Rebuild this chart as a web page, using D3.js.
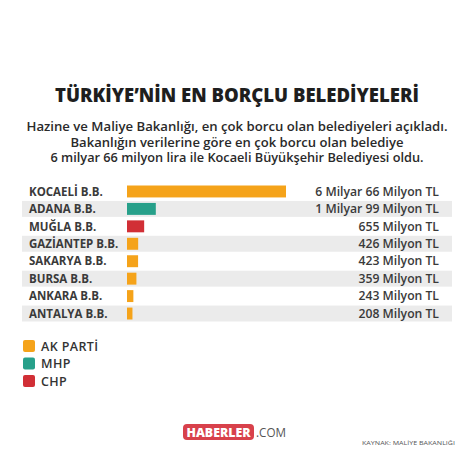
<!DOCTYPE html>
<html><head><meta charset="utf-8">
<script src="https://cdn.jsdelivr.net/npm/d3@7"></script>
<style>
html,body{margin:0;padding:0;background:#fff;}
svg{display:block;font-family:"Open Sans","Noto Sans",sans-serif;}
</style></head>
<body><svg id="c" width="474" height="474"></svg>
<script>
const categories = ["KOCAELİ B.B.","ADANA B.B.","MUĞLA B.B.","GAZİANTEP B.B.","SAKARYA B.B.","BURSA B.B.","ANKARA B.B.","ANTALYA B.B."];
const values = [6066, 1099, 655, 426, 423, 359, 243, 208];
const valueLabels = ["6 Milyar 66 Milyon TL","1 Milyar 99 Milyon TL","655 Milyon TL","426 Milyon TL","423 Milyon TL","359 Milyon TL","243 Milyon TL","208 Milyon TL"];
const parties = ["AK PARTİ","MHP","CHP","AK PARTİ","AK PARTİ","AK PARTİ","AK PARTİ","AK PARTİ"];
const legendItems = ["AK PARTİ","MHP","CHP"];
const partyColors = ["#f5a31a","#27a08a","#d12f36"];
const title = "TÜRKİYE’NİN EN BORÇLU BELEDİYELERİ";
const subtitle = ["Hazine ve Maliye Bakanlığı, en çok borcu olan belediyeleri açıkladı.","Bakanlığın verilerine göre en çok borcu olan belediye","6 milyar 66 milyon lira ile Kocaeli Büyükşehir Belediyesi oldu."];
const subtitleWidths = [421, 333, 373];

const svg = d3.select("#c");
const color = d3.scaleOrdinal().domain(legendItems).range(partyColors);

svg.append("text").attr("x",237).attr("y",102).attr("text-anchor","middle")
  .attr("font-size",18.5).attr("font-weight",800).attr("fill","#1e1e1e")
  .attr("textLength",364).attr("lengthAdjust","spacingAndGlyphs").text(title);

svg.selectAll("text.sub").data(subtitle).join("text").attr("class","sub")
  .attr("x",237).attr("y",(d,i)=>131+i*15.5).attr("text-anchor","middle")
  .attr("font-size",12.5).attr("font-weight",600).attr("fill","#2a2a2a")
  .attr("textLength",(d,i)=>subtitleWidths[i]).attr("lengthAdjust","spacingAndGlyphs").text(d=>d);

const y = d3.scaleBand().domain(categories).range([182.5,322]).paddingInner(0).paddingOuter(0);
const x = d3.scaleLinear().domain([0,6066]).range([127,286]);

svg.selectAll("rect.stripe").data(categories.filter((d,i)=>i%2===1)).join("rect").attr("class","stripe")
  .attr("x",22).attr("width",430).attr("y",d=>y(d)+1).attr("height",y.bandwidth()-1.5).attr("fill","#ebebeb");

svg.selectAll("rect.bar").data(categories).join("rect").attr("class","bar")
  .attr("x",x(0)).attr("y",d=>y(d)+3).attr("height",y.bandwidth()-5.5)
  .attr("width",(d,i)=>x(values[i])-x(0)).attr("fill",(d,i)=>color(parties[i]));

svg.selectAll("text.cat").data(categories).join("text").attr("class","cat")
  .attr("x",29).attr("y",d=>y(d)+y.bandwidth()/2+4.5).attr("font-size",11.5).attr("font-weight",700)
  .attr("fill","#3a3a3a").text(d=>d);

svg.selectAll("text.val").data(categories).join("text").attr("class","val")
  .attr("x",439).attr("y",d=>y(d)+y.bandwidth()/2+4.5).attr("text-anchor","end").attr("font-size",12.2).attr("font-weight",600)
  .attr("fill","#3a3a3a").text((d,i)=>valueLabels[i]);

const lg = svg.selectAll("g.lg").data(legendItems).join("g").attr("class","lg")
  .attr("transform",(d,i)=>`translate(23,${340+i*17.5})`);
lg.append("rect").attr("width",12).attr("height",12).attr("rx",2).attr("fill",d=>color(d));
lg.append("text").attr("x",18).attr("y",10.5).attr("font-size",12.5).attr("font-weight",600)
  .attr("letter-spacing",0.4).attr("fill","#333").text(d=>d);

svg.append("rect").attr("x",183).attr("y",424).attr("width",71).attr("height",16).attr("rx",4).attr("fill","#d8414b");
svg.append("text").attr("x",218.5).attr("y",436.5).attr("text-anchor","middle").attr("font-size",12).attr("font-weight",800)
  .attr("fill","#fff").attr("textLength",64).attr("lengthAdjust","spacingAndGlyphs").text("HABERLER");
svg.append("text").attr("x",256).attr("y",437).attr("font-size",12.5).attr("font-weight",500)
  .attr("fill","#555").attr("textLength",30).attr("lengthAdjust","spacingAndGlyphs").text(".COM");
svg.append("text").attr("x",362).attr("y",445).attr("font-size",6).attr("fill","#555")
  .attr("textLength",93).attr("lengthAdjust","spacingAndGlyphs").text("KAYNAK:  MALİYE BAKANLIĞI");
</script></body></html>
